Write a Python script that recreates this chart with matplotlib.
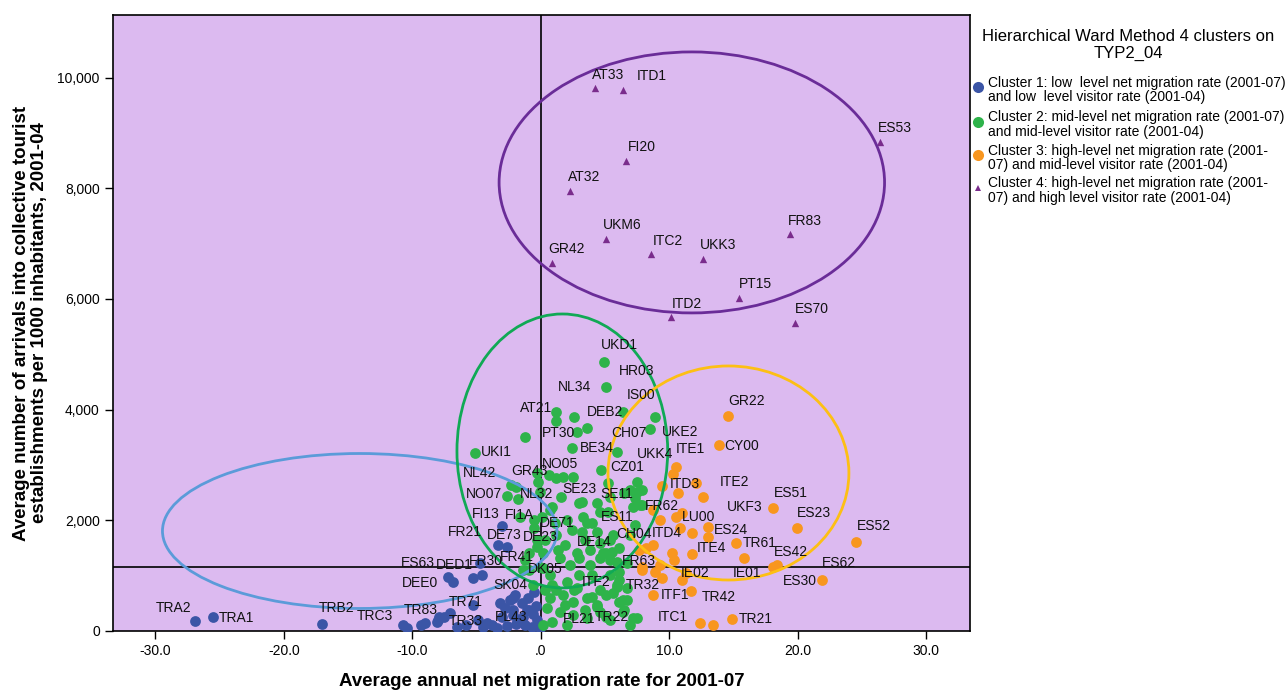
import matplotlib
matplotlib.use("Agg")
import matplotlib.pyplot as plt
from matplotlib.lines import Line2D
from matplotlib.patches import Ellipse
from matplotlib.ticker import FuncFormatter, MultipleLocator

plt.rcParams["font.family"] = ["Liberation Sans", "DejaVu Sans"]

# cluster 1: low migration / low visitors
c1_x = [-26.9, -25.5, -17.0, -10.7, -10.4, -9.3, -9.0, -8.1, -7.9, -8.0, -7.5, -7.1,
        -6.5, -5.8, -5.3, -4.9, -4.2, -3.4, -7.2, -6.8, -5.3, -4.6, -4.7, -3.0,
        -3.3, -2.6, -3.2, -2.2, -2.0, -2.4, -3.0, -1.9, -1.4, -0.9, -0.3, -0.1,
        -2.2, -1.6, -1.1, -0.7, -2.2, -1.0, -0.5, -1.5, -0.4, -2.6, -1.2, -0.6,
        -4.5, -3.8, -2.8]
c1_y = [181, 253, 126, 108, 54, 108, 145, 163, 253, 199, 250, 325,
        72, 108, 470, 199, 145, 54, 976, 885, 958, 1012, 1229, 1897,
        1554, 1518, 506, 596, 650, 560, 253, 126, 253, 379, 199, 54,
        379, 199, 379, 72, 289, 600, 700, 500, 450, 90, 100, 300,
        70, 100, 420]

# cluster 2: mid migration / mid visitors
c2_x = [4.9, 5.1, 6.4, 2.6, 1.2, 1.2, 2.8, 3.6, -1.2, 2.4, -5.1, 5.9, 8.5, 8.9,
        4.7, -0.2, 0.6, 1.2, 1.7, -2.3, -1.9, -2.6, -1.8, -0.1, 1.6, 3.0, 5.2,
        7.5, 7.5, 7.3, 7.2, 7.9, 6.5, 4.4, 4.6, -0.5, 0.1, 0.9, 3.3, 4.0, 5.2,
        7.3, 2.5, 3.2, 3.6, 2.0, 2.4, 3.2, 4.4, 4.6, 5.4, 6.1, 6.9, 0.7, 1.1,
        1.2, 1.3, 0.2, 2.8, 3.8, 5.1, 5.4, 1.5, 3.0, 4.6, 5.9, 0.2, 0.7, 0.9,
        2.0, 2.8, 1.7, 0.7, 2.5, 3.6, 4.4, 5.1, 5.9, 6.1, 6.7, 5.4, 4.0, 3.0,
        1.5, 2.5, 3.6, 4.6, 6.4, 7.5, 6.9, 0.5, 0.9, 2.0, 0.2, -0.6, -0.9,
        -1.2, -0.9, -0.3, -0.1, -1.4, -1.6, -0.5, -0.3, 6.7, 6.1, 5.6, 6.7,
        4.4, 5.1, 4.0, 5.6, 6.9, 5.5, 4.8, 5.4, 6.1, 5.9, 6.4, 7.2, 6.5, 7.9,
        7.7, 1.9, 3.4, 2.3, 3.8, 2.6, 1.2, 4.6, 0.3, 3.4, 1.9, 5.4, 0.3, -0.3]
c2_y = [4861, 4409, 3957, 3867, 3957, 3795, 3596, 3668, 3506, 3307, 3217, 3235,
        3650, 3867, 2909, 2692, 2819, 2765, 2783, 2638, 2602, 2439, 2385, 2512,
        2421, 2313, 2674, 2692, 2512, 2403, 2241, 2277, 2494, 2313, 2150, 2006,
        2060, 2241, 2060, 1952, 2150, 1915, 2783, 2331, 1952, 2006, 1825, 1789,
        1789, 1590, 1644, 1500, 2548, 2186, 1952, 1735, 1464, 1409, 1409, 1464,
        1409, 2421, 1319, 1319, 1319, 1247, 1138, 1012, 831, 885, 777, 651, 596,
        524, 596, 470, 651, 831, 524, 777, 1012, 1012, 1012, 343, 289, 235, 343,
        343, 235, 108, 416, 163, 108, 108, 831, 1102, 1283, 1409, 1518, 1156,
        1102, 2060, 1861, 1644, 1229, 922, 687, 560, 434, 253, 614, 1735, 1735,
        1428, 1409, 1283, 1066, 795, 560, 235, 379, 2548, 2277, 1554, 1644, 1193,
        1193, 741, 741, 741, 741, 379, 470, 199, 1644, 2855]

# cluster 3: high migration / mid visitors
c3_x = [14.6, 13.9, 10.5, 10.3, 9.4, 12.1, 10.7, 12.6, 18.1, 19.9, 24.5, 9.3,
        8.7, 10.5, 11.0, 10.8, 11.8, 13.0, 13.0, 15.2, 15.8, 8.7, 8.2, 7.6,
        11.8, 10.2, 10.4, 18.1, 18.4, 21.9, 7.9, 8.9, 11.0, 9.4, 8.7, 11.7,
        14.9, 12.4, 13.4, 7.9, 9.3, 11.3]
c3_y = [3885, 3360, 2960, 2840, 2620, 2675, 2490, 2420, 2220, 1860, 1610, 2005,
        2185, 2060, 2130, 1860, 1770, 1880, 1700, 1590, 1320, 1555, 1500, 1465,
        1390, 1410, 1280, 1155, 1190, 920, 1100, 1065, 920, 955, 650, 720,
        217, 145, 108, 1155, 1193, 1048]

# cluster 4: high migration / high visitors
c4_x = [4.2, 6.4, 6.6, 2.3, 5.1, 8.6, 12.6, 0.9, 19.4, 26.4, 15.4, 10.1, 19.8]
c4_y = [9810, 9775, 8490, 7950, 7080, 6810, 6720, 6650, 7170, 8830, 6015, 5670, 5565]

# region labels (text, x, y)
lab_txt = ["AT33", "ITD1", "FI20", "AT32", "UKM6", "ITC2", "UKK3", "GR42", "FR83",
           "ES53", "PT15", "ITD2", "ES70",
           "UKD1", "HR03", "NL34", "IS00", "AT21", "DEB2", "PT30", "CH07", "UKE2",
           "BE34", "UKK4", "UKI1", "ITE1", "NO05", "CZ01", "NL42", "GR43", "ITD3",
           "NO07", "NL32", "SE23", "SE11", "FI13", "FI1A", "FR62", "ES11", "LU00",
           "FR21", "DE71", "DE73", "DE23", "DE14", "CH04", "ITD4", "FR30", "FR41",
           "DK05", "FR63", "ITF2", "SK04", "TR32", "ITF1", "PL43", "PL21", "TR22",
           "ITC1", "TR33", "TR71", "DED1", "ES63", "DEE0", "TRA2", "TRA1", "TRB2",
           "TRC3", "TR83",
           "GR22", "CY00", "ITE2", "ES51", "UKF3", "ES23", "ES52", "ES24", "TR61",
           "ITE4", "ES42", "ES62", "IE02", "IE01", "ES30", "TR42", "TR21"]
lab_x = [4.0, 7.5, 6.8, 2.1, 4.8, 8.7, 12.4, 0.6, 19.2,
         26.2, 15.4, 10.2, 19.8,
         4.7, 6.1, 1.3, 6.7, -1.6, 3.6, 0.1, 5.5, 9.4,
         3.0, 7.5, -4.7, 10.5, 0.1, 5.4, -6.1, -2.3, 10.0,
         -5.8, -1.6, 1.7, 4.6, -5.4, -2.8, 8.1, 4.7, 11.0,
         -7.2, -0.1, -4.2, -1.4, 2.8, 5.9, 8.6, -5.6, -3.2,
         -1.0, 6.3, 3.2, -3.7, 6.6, 9.3, -3.6, 1.7, 4.2,
         9.1, -7.2, -7.2, -8.2, -10.9, -10.8, -30.0, -25.1, -17.3,
         -14.3, -10.7,
         14.6, 14.3, 13.9, 18.1, 14.5, 19.9, 24.6, 13.5, 15.7,
         12.1, 18.1, 21.9, 10.9, 14.9, 18.8, 12.5, 15.4]
lab_y = [10047, 10029, 8746, 8204, 7336, 7047, 6975, 6903, 7409,
         9089, 6270, 5909, 5819,
         5168, 4698, 4409, 4265, 4030, 3957, 3578, 3578, 3596,
         3307, 3198, 3235, 3289, 3018, 2963, 2855, 2891, 2656,
         2476, 2476, 2566, 2476, 2114, 2096, 2259, 2060, 2060,
         1789, 1952, 1735, 1699, 1608, 1753, 1771, 1265, 1337,
         1120, 1265, 885, 831, 831, 651, 253, 217, 253,
         253, 181, 524, 1193, 1229, 867, 416, 235, 416,
         271, 379,
         4156, 3343, 2692, 2494, 2241, 2132, 1897, 1825, 1590,
         1500, 1428, 1229, 1048, 1048, 904, 614, 217]

# ellipses drawn round the clusters: centre x, centre y, width, height
ell_cx = [-14.1, 1.67, 14.6, 11.75]
ell_cy = [1807, 3253, 2855, 8105]
ell_w = [30.7, 16.4, 18.75, 30.0]
ell_h = [2800, 4950, 3867, 4716]

colors = ["#3B55A6", "#2EB34A", "#F8961F", "#7A2C8C"]
ell_col = ["#5B9BD9", "#10A955", "#FDBF14", "#6A2C98"]

legend_title = "Hierarchical Ward Method 4 clusters on\nTYP2_04"
legend_lbl = [
    "Cluster 1: low  level net migration rate (2001-07)\nand low  level visitor rate (2001-04)",
    "Cluster 2: mid-level net migration rate (2001-07)\nand mid-level visitor rate (2001-04)",
    "Cluster 3: high-level net migration rate (2001-\n07) and mid-level visitor rate (2001-04)",
    "Cluster 4: high-level net migration rate (2001-\n07) and high level visitor rate (2001-04)",
]

fig = plt.figure(figsize=(12.88, 6.93), dpi=100)
ax = fig.add_axes([113 / 1288, 1 - 631 / 693, 857 / 1288, 616 / 693])
ax.set_facecolor("#DCBAF0")

ax.axvline(0, color="black", lw=1.2, zorder=1)
ax.axhline(1157, color="black", lw=1.2, zorder=1)

for cx, cy, w, h, c in zip(ell_cx, ell_cy, ell_w, ell_h, ell_col):
    ax.add_patch(Ellipse((cx, cy), w, h, fill=False, ec=c, lw=2.0, zorder=4))

ax.scatter(c1_x, c1_y, s=60, color=colors[0], lw=0, zorder=3)
ax.scatter(c2_x, c2_y, s=60, color=colors[1], lw=0, zorder=3)
ax.scatter(c3_x, c3_y, s=60, color=colors[2], lw=0, zorder=3)
ax.scatter(c4_x, c4_y, s=28, marker="^", color=colors[3], lw=0, zorder=3)

for t, x, y in zip(lab_txt, lab_x, lab_y):
    ax.text(x, y, t, fontsize=10, ha="left", va="center", color="#111111", zorder=5)

ax.set_xlim(-33.3, 33.4)
ax.set_ylim(0, 11130)
ax.xaxis.set_major_locator(MultipleLocator(10))
ax.yaxis.set_major_locator(MultipleLocator(2000))
ax.xaxis.set_major_formatter(FuncFormatter(
    lambda v, p: ".0" if abs(v) < 1e-9 else f"{v:.1f}"))
ax.yaxis.set_major_formatter(FuncFormatter(lambda v, p: f"{v:,.0f}"))
ax.tick_params(direction="out", length=6, width=1, labelsize=10, colors="black")
for s in ax.spines.values():
    s.set_linewidth(1.2)

ax.set_xlabel("Average annual net migration rate for 2001-07",
              fontsize=13.5, fontweight="bold")
ax.xaxis.label.set_va("center")
ax.xaxis.set_label_coords(0.5, -0.082)
ax.set_ylabel("Average number of arrivals into collective tourist\n"
              "establishments per 1000 inhabitants, 2001-04",
              fontsize=13.5, fontweight="bold", labelpad=7, linespacing=1.05)

# legend, laid out by hand to the right of the plot
fig.text(0.8762, 0.935, legend_title, ha="center", va="center",
         fontsize=12, linespacing=1.08)
text_y = [0.8701, 0.8203, 0.7720, 0.7251]
mark_y = [0.8745, 0.8240, 0.7763, 0.7287]
for i, (lbl, ty, my) in enumerate(zip(legend_lbl, text_y, mark_y)):
    fig.text(0.7671, ty, lbl, ha="left", va="center", fontsize=10,
             linespacing=1.05)
    mk = "^" if i == 3 else "o"
    ms = 5 if i == 3 else 8
    fig.add_artist(Line2D([0.7593], [my], marker=mk, ms=ms, color=colors[i],
                          lw=0, mew=0, transform=fig.transFigure))

fig.savefig("out.png", dpi=100)
